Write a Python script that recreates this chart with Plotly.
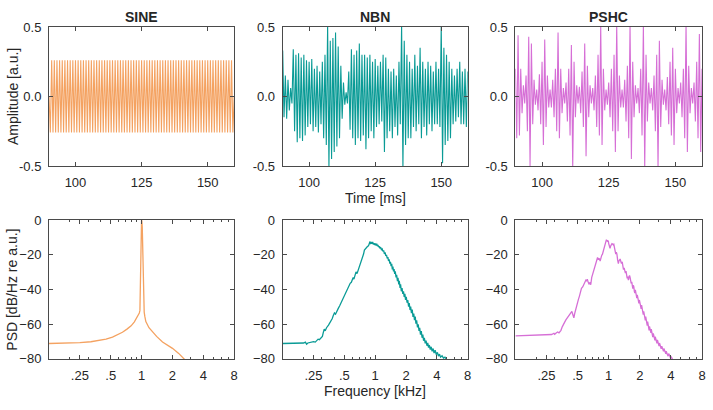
import plotly.graph_objects as go

# ---------------- data ----------------
panel_titles = ["SINE", "NBN", "PSHC"]
time_start_ms = 90.0
time_step_ms = 0.5   # spacing of the read-off half-cycle extrema

sine_extrema = [
    0.0, -0.26, 0.26, -0.26, 0.26, -0.26, 0.26, -0.26, 0.26, -0.26,
    0.26, -0.26, 0.26, -0.26, 0.26, -0.26, 0.26, -0.26, 0.26, -0.26,
    0.26, -0.26, 0.26, -0.26, 0.26, -0.26, 0.26, -0.26, 0.26, -0.26,
    0.26, -0.26, 0.26, -0.26, 0.26, -0.26, 0.26, -0.26, 0.26, -0.26,
    0.26, -0.26, 0.26, -0.26, 0.26, -0.26, 0.26, -0.26, 0.26, -0.26,
    0.26, -0.26, 0.26, -0.26, 0.26, -0.26, 0.26, -0.26, 0.26, -0.26,
    0.26, -0.26, 0.26, -0.26, 0.26, -0.26, 0.26, -0.26, 0.26, -0.26,
    0.26, -0.26, 0.26, -0.26, 0.26, -0.26, 0.26, -0.26, 0.26, -0.26,
    0.26, -0.26, 0.26, -0.26, 0.26, -0.26, 0.26, -0.26, 0.26, -0.26,
    0.26, -0.26, 0.26, -0.26, 0.26, -0.26, 0.26, -0.26, 0.26, -0.26,
    0.26, -0.26, 0.26, -0.26, 0.26, -0.26, 0.26, -0.26, 0.26, -0.26,
    0.26, -0.26, 0.26, -0.26, 0.26, -0.26, 0.26, -0.26, 0.26, -0.26,
    0.26, -0.26, 0.26, -0.26, 0.26, -0.26, 0.26, -0.26, 0.26, -0.26,
    0.26, -0.26, 0.26, -0.26, 0.26, -0.26, 0.26, -0.26, 0.26, -0.26,
    0.0,
]

nbn_extrema = [
    0.33, -0.15, 0.15, -0.16, 0.12, -0.10, 0.06, -0.05, 0.34, -0.25,
    0.30, -0.33, 0.31, -0.30, 0.28, -0.32, 0.30, -0.28, 0.26, -0.22,
    0.25, -0.20, 0.27, -0.25, 0.20, -0.22, 0.22, -0.26, 0.18, -0.20,
    0.25, -0.30, 0.30, -0.35, 0.52, -0.52, 0.40, -0.45, 0.42, -0.40,
    0.46, -0.36, 0.36, -0.30, 0.22, -0.16, 0.10, -0.06, 0.03, -0.05,
    0.18, -0.24, 0.34, -0.30, 0.30, -0.35, 0.33, -0.30, 0.38, -0.32,
    0.30, -0.28, 0.30, -0.38, 0.28, -0.30, 0.30, -0.25, 0.25, -0.30,
    0.27, -0.22, 0.22, -0.20, 0.25, -0.18, 0.30, -0.40, 0.28, -0.30,
    0.20, -0.25, 0.18, -0.30, 0.20, -0.22, 0.15, -0.28, 0.25, -0.20,
    0.52, -0.52, 0.40, -0.35, 0.30, -0.30, 0.25, -0.30, 0.20, -0.22,
    0.30, -0.25, 0.22, -0.20, 0.35, -0.30, 0.25, -0.22, 0.20, -0.28,
    0.25, -0.20, 0.22, -0.25, 0.18, -0.20, 0.25, -0.20, 0.20, -0.22,
    0.52, -0.48, 0.35, -0.35, 0.30, -0.32, 0.25, -0.30, 0.20, -0.20,
    0.15, -0.18, 0.20, -0.15, 0.25, -0.20, 0.18, -0.20, 0.20, -0.22,
    0.18,
]

pshc_extrema = [
    0.20, -0.30, 0.44, -0.28, 0.20, -0.12, 0.08, -0.05, 0.15, -0.25,
    0.43, -0.50, 0.38, -0.20, 0.12, -0.06, 0.05, -0.10, 0.16, -0.20,
    0.25, -0.35, 0.41, -0.22, 0.15, -0.08, 0.05, -0.08, 0.12, -0.15,
    0.20, -0.25, 0.46, -0.30, 0.20, -0.12, 0.06, -0.05, 0.10, -0.18,
    0.20, -0.28, 0.37, -0.52, 0.25, -0.15, 0.08, -0.05, 0.07, -0.12,
    0.18, -0.22, 0.38, -0.43, 0.22, -0.15, 0.08, -0.05, 0.06, -0.10,
    0.15, -0.22, 0.30, -0.28, 0.52, -0.35, 0.20, -0.10, 0.05, -0.06,
    0.10, -0.15, 0.20, -0.25, 0.30, -0.40, 0.52, -0.25, 0.15, -0.08,
    0.05, -0.08, 0.12, -0.18, 0.22, -0.30, 0.52, -0.45, 0.25, -0.15,
    0.08, -0.05, 0.06, -0.12, 0.20, -0.28, 0.52, -0.52, 0.30, -0.18,
    0.10, -0.05, 0.06, -0.10, 0.15, -0.25, 0.30, -0.52, 0.40, -0.22,
    0.12, -0.06, 0.05, -0.10, 0.14, -0.20, 0.25, -0.28, 0.35, -0.35,
    0.20, -0.12, 0.06, -0.05, 0.10, -0.15, 0.20, -0.30, 0.52, -0.40,
    0.22, -0.12, 0.06, -0.05, 0.10, -0.18, 0.25, -0.30, 0.45, -0.40,
    0.20,
]

sine_freq_khz = [0.125, 0.2, 0.25, 0.32, 0.39, 0.45, 0.52, 0.6, 0.65, 0.72,
                 0.79, 0.85, 0.88, 0.91, 0.935, 0.95, 0.963, 0.975, 0.99, 1.0,
                 1.015, 1.03, 1.045, 1.06, 1.075, 1.1, 1.18, 1.28, 1.4, 1.6,
                 1.8, 2.0, 2.3, 2.6, 2.8]
sine_psd_db = [-71.1, -70.9, -70.6, -70.1, -69.3, -68.6, -67.4, -65.8, -64.6, -62.8,
               -60.9, -58.6, -57.2, -55.5, -54.0, -53.5, -52.0, -30.0, -4.0, 2.0,
               -4.0, -30.0, -52.0, -53.0, -55.5, -58.5, -62.0, -64.6, -67.0, -70.2,
               -72.2, -73.9, -76.8, -80.0, -82.0]

nbn_freq_khz = [
    0.125, 0.16, 0.2, 0.208, 0.214, 0.22, 0.235, 0.25, 0.26, 0.27,
    0.277, 0.285, 0.295, 0.305, 0.312, 0.318, 0.325, 0.335, 0.35, 0.365,
    0.38, 0.39, 0.4, 0.41, 0.42, 0.435, 0.45, 0.465, 0.48, 0.495,
    0.51, 0.525, 0.54, 0.555, 0.57, 0.585, 0.6, 0.61, 0.62, 0.635,
    0.65, 0.665, 0.68, 0.695, 0.71, 0.725, 0.74, 0.755, 0.77, 0.785,
    0.8, 0.82, 0.84, 0.86, 0.875, 0.89, 0.9, 0.915, 0.93, 0.945,
    0.96, 0.975, 0.99, 1.005, 1.02, 1.035, 1.05, 1.065, 1.08, 1.095,
    1.11, 1.13, 1.15, 1.17, 1.19, 1.21, 1.23, 1.25, 1.27, 1.29,
    1.31, 1.33, 1.35, 1.37, 1.39, 1.41, 1.43, 1.45, 1.47, 1.49,
    1.51, 1.53, 1.55, 1.57, 1.6, 1.62, 1.65, 1.67, 1.7, 1.72,
    1.75, 1.77, 1.8, 1.83, 1.86, 1.89, 1.92, 1.95, 1.98, 2.01,
    2.05, 2.08, 2.12, 2.15, 2.19, 2.22, 2.26, 2.3, 2.34, 2.38,
    2.42, 2.46, 2.5, 2.54, 2.59, 2.63, 2.68, 2.72, 2.77, 2.82,
    2.87, 2.92, 2.97, 3.02, 3.08, 3.14, 3.2, 3.26, 3.32, 3.38,
    3.45, 3.52, 3.6, 3.68, 3.76, 3.85, 3.95, 4.05, 4.15, 4.25,
    4.35, 4.5, 4.65, 4.8, 5.0, 5.2,
]
nbn_psd_db = [
    -71.1, -71.0, -70.8, -70.3, -71.5, -70.8, -70.5, -70.0, -70.3, -69.0,
    -68.6, -68.9, -67.6, -67.0, -64.5, -62.8, -63.8, -62.0, -60.5, -58.8,
    -56.8, -55.0, -53.5, -54.2, -52.5, -51.0, -49.3, -47.5, -45.2, -43.5,
    -42.8, -40.6, -39.5, -37.8, -36.4, -35.8, -34.2, -33.0, -34.0, -31.0,
    -29.8, -30.8, -29.0, -27.5, -26.0, -25.0, -23.6, -21.8, -19.5, -17.2,
    -16.5, -16.0, -15.2, -14.8, -13.6, -12.3, -13.8, -12.6, -13.5, -12.5,
    -14.0, -13.2, -14.3, -13.4, -14.6, -13.6, -14.9, -14.3, -15.5, -15.0,
    -16.2, -15.5, -17.0, -16.6, -18.0, -17.4, -19.4, -18.6, -20.6, -20.0,
    -22.0, -21.3, -23.5, -22.6, -25.0, -24.0, -26.5, -25.2, -28.4, -26.8,
    -29.5, -28.2, -31.0, -29.5, -33.0, -31.5, -35.2, -33.3, -37.0, -35.0,
    -39.0, -37.0, -41.0, -39.2, -42.5, -41.0, -44.3, -42.5, -46.0, -44.2,
    -47.6, -46.0, -49.8, -47.8, -51.8, -49.8, -53.6, -51.6, -55.8, -53.8,
    -57.6, -55.6, -59.6, -57.8, -61.8, -60.0, -63.8, -62.0, -66.0, -64.0,
    -67.8, -66.0, -69.5, -67.8, -71.0, -69.5, -72.4, -70.8, -73.5, -72.0,
    -74.6, -73.0, -75.6, -74.0, -76.6, -75.0, -77.5, -76.2, -78.4, -77.2,
    -79.0, -78.2, -79.5, -79.0, -80.5, -81.5,
]

pshc_freq_khz = [
    0.125, 0.18, 0.24, 0.28, 0.295, 0.3, 0.31, 0.32, 0.33, 0.345,
    0.355, 0.365, 0.375, 0.385, 0.4, 0.41, 0.425, 0.44, 0.45, 0.46,
    0.47, 0.48, 0.49, 0.5, 0.51, 0.52, 0.535, 0.545, 0.56, 0.575,
    0.59, 0.6, 0.61, 0.62, 0.635, 0.647, 0.66, 0.67, 0.685, 0.7,
    0.71, 0.725, 0.74, 0.75, 0.765, 0.78, 0.795, 0.81, 0.826, 0.84,
    0.855, 0.87, 0.89, 0.905, 0.917, 0.93, 0.94, 0.95, 0.96, 0.97,
    0.98, 0.99, 1.0, 1.015, 1.03, 1.045, 1.06, 1.075, 1.09, 1.105,
    1.12, 1.135, 1.15, 1.17, 1.185, 1.2, 1.22, 1.24, 1.255, 1.27,
    1.29, 1.31, 1.33, 1.35, 1.37, 1.39, 1.41, 1.43, 1.45, 1.47,
    1.49, 1.51, 1.53, 1.55, 1.57, 1.59, 1.61, 1.63, 1.65, 1.67,
    1.69, 1.71, 1.73, 1.75, 1.77, 1.79, 1.81, 1.83, 1.85, 1.87,
    1.89, 1.91, 1.94, 1.96, 1.98, 2.0, 2.03, 2.06, 2.08, 2.1,
    2.13, 2.16, 2.18, 2.2, 2.23, 2.26, 2.28, 2.3, 2.33, 2.36,
    2.38, 2.4, 2.43, 2.46, 2.48, 2.5, 2.53, 2.56, 2.58, 2.6,
    2.64, 2.67, 2.7, 2.72, 2.76, 2.8, 2.82, 2.85, 2.89, 2.93,
    2.96, 2.99, 3.03, 3.07, 3.1, 3.13, 3.18, 3.22, 3.26, 3.29,
    3.34, 3.39, 3.42, 3.46, 3.52, 3.57, 3.6, 3.64, 3.7, 3.76,
    3.8, 3.86, 3.92, 3.98, 4.02, 4.08, 4.15, 4.25,
]
pshc_psd_db = [
    -66.7, -66.5, -66.2, -65.9, -65.2, -65.8, -65.0, -64.5, -65.0, -63.5,
    -61.5, -59.5, -58.8, -57.5, -56.0, -55.4, -54.0, -52.6, -54.5, -56.3,
    -53.5, -51.0, -49.5, -47.6, -45.5, -43.9, -41.0, -39.3, -38.5, -37.2,
    -36.0, -34.6, -35.2, -34.0, -36.0, -37.0, -35.8, -37.2, -33.0, -31.0,
    -29.8, -27.8, -25.5, -24.3, -22.6, -21.5, -22.8, -22.0, -23.5, -21.5,
    -20.3, -19.6, -17.5, -16.0, -15.0, -13.8, -12.0, -11.2, -12.0, -11.6,
    -12.4, -11.8, -13.5, -15.0, -16.2, -14.8, -14.0, -13.5, -13.7, -14.2,
    -13.9, -15.5, -17.5, -19.6, -18.4, -19.5, -23.0, -25.0, -23.5, -22.6,
    -22.4, -23.8, -25.0, -24.0, -26.5, -28.5, -27.5, -29.6, -30.5, -29.4,
    -31.5, -33.5, -32.5, -34.5, -32.8, -31.8, -33.0, -35.5, -36.5, -35.5,
    -38.5, -39.5, -37.5, -38.5, -41.0, -42.0, -40.2, -41.5, -44.0, -45.0,
    -43.0, -44.0, -46.8, -48.0, -46.0, -47.0, -50.0, -51.2, -49.0, -50.0,
    -53.0, -54.5, -52.5, -53.5, -56.5, -57.8, -55.6, -56.6, -59.5, -60.8,
    -58.5, -59.4, -62.2, -63.5, -61.2, -62.0, -63.8, -65.0, -62.8, -63.6,
    -66.2, -67.4, -65.2, -66.0, -68.2, -69.3, -67.2, -68.0, -70.0, -71.0,
    -69.0, -69.8, -71.6, -72.6, -70.8, -71.5, -73.3, -74.2, -72.6, -73.2,
    -74.8, -75.6, -74.0, -74.6, -76.2, -77.0, -75.5, -76.0, -77.6, -78.4,
    -77.0, -77.6, -79.0, -79.8, -78.6, -79.2, -80.5, -81.5,
]

time_ticks = [100, 125, 150]
amp_ticks = [-0.5, 0.0, 0.5]
amp_tick_text = ["-0.5", "0.0", "0.5"]
freq_ticks = [0.25, 0.5, 1, 2, 4, 8]
freq_tick_text = [".25", ".5", "1", "2", "4", "8"]
freq_minor = [0.2, 0.3, 0.4, 0.6, 0.7, 0.8, 0.9, 3, 5, 6, 7]
psd_ticks = [0, -20, -40, -60, -80]

colors = ["#F4A261", "#0A9B96", "#D66FD6"]

# ---------------- layout geometry (pixels) ----------------
W, H = 713, 410
col_px = [(49.3, 235.5), (284.3, 470.3), (518.3, 706.0)]
row_px = [(20.7, 165.0), (221.3, 365.3)]
FONT = "Liberation Sans, Arial, Helvetica, sans-serif"
TXT = "#262626"
AX = "#4a4a4a"


def xdom(c):
    return [col_px[c][0] / W, col_px[c][1] / W]


def ydom(r):
    return [1 - row_px[r][1] / H, 1 - row_px[r][0] / H]


fig = go.Figure()

time_series = [sine_extrema, nbn_extrema, pshc_extrema]
for c, vals in enumerate(time_series):
    t = [time_start_ms + time_step_ms * i for i in range(len(vals))]
    fig.add_trace(go.Scatter(x=t, y=vals, mode="lines",
                             line=dict(color=colors[c], width=1.1),
                             xaxis=f"x{c + 1}", yaxis=f"y{c + 1}",
                             showlegend=False, hoverinfo="skip"))

psd_series = [(sine_freq_khz, sine_psd_db), (nbn_freq_khz, nbn_psd_db),
              (pshc_freq_khz, pshc_psd_db)]
for c, (f, p) in enumerate(psd_series):
    fig.add_trace(go.Scatter(x=f, y=p, mode="lines",
                             line=dict(color=colors[c], width=1.3),
                             xaxis=f"x{c + 4}", yaxis=f"y{c + 4}",
                             showlegend=False, hoverinfo="skip"))

common = dict(showline=True, linecolor=AX, linewidth=1, mirror="ticks",
              ticks="inside", ticklen=4, tickcolor=AX, tickwidth=1,
              showgrid=False, zeroline=False,
              tickfont=dict(family=FONT, size=13, color=TXT))

layout = dict(width=W, height=H, autosize=False,
              margin=dict(l=0, r=0, t=0, b=0, pad=0),
              paper_bgcolor="white", plot_bgcolor="white",
              font=dict(family=FONT, color=TXT))

for c in range(3):
    layout[f"xaxis{c + 1}"] = dict(common, domain=xdom(c), anchor=f"y{c + 1}",
                                   range=[90, 160], tickmode="array",
                                   tickvals=time_ticks, ticklabelstandoff=4)
    layout[f"yaxis{c + 1}"] = dict(common, domain=ydom(0), anchor=f"x{c + 1}",
                                   range=[-0.5, 0.5], tickmode="array",
                                   tickvals=amp_ticks, ticktext=amp_tick_text,
                                   ticklabelstandoff=4)
    layout[f"xaxis{c + 4}"] = dict(common, domain=xdom(c), anchor=f"y{c + 4}",
                                   type="log", range=[-0.90309, 0.90309],
                                   tickmode="array", tickvals=freq_ticks,
                                   ticktext=freq_tick_text, ticklabelstandoff=4,
                                   minor=dict(tickmode="array", tickvals=freq_minor,
                                              ticks="inside", ticklen=2,
                                              tickcolor=AX))
    layout[f"yaxis{c + 4}"] = dict(common, domain=ydom(1), anchor=f"x{c + 4}",
                                   range=[-80, 0], tickmode="array",
                                   tickvals=psd_ticks, ticklabelstandoff=4)

annotations = []
for c, title in enumerate(panel_titles):
    cx = (col_px[c][0] + col_px[c][1]) / 2
    annotations.append(dict(text=f"<b>{title}</b>", x=cx / W, y=1 - 10 / H,
                            xref="paper", yref="paper", showarrow=False,
                            xanchor="center", yanchor="middle",
                            font=dict(family=FONT, size=14, color=TXT)))
label_font = dict(family=FONT, size=14, color=TXT)
annotations += [
    dict(text="Amplitude [a.u.]", x=12.5 / W, y=1 - 93 / H, textangle=-90),
    dict(text="Time [ms]", x=377.3 / W, y=1 - 198 / H),
    dict(text="PSD [dB/Hz re a.u.]", x=12.5 / W, y=1 - 293 / H, textangle=-90),
    dict(text="Frequency [kHz]", x=377.3 / W, y=1 - 399 / H),
]
for a in annotations[3:]:
    a.update(xref="paper", yref="paper", showarrow=False, xanchor="center",
             yanchor="middle", font=label_font)
layout["annotations"] = annotations

fig.update_layout(**layout)

page_fix = ("document.documentElement.style.margin='0';"
            "document.documentElement.style.overflow='hidden';"
            "document.body.style.margin='0';"
            "document.body.style.padding='0';"
            "document.body.style.overflow='hidden';")
fig.write_html("out.html", post_script=page_fix,
               config={"responsive": False, "displayModeBar": False})
